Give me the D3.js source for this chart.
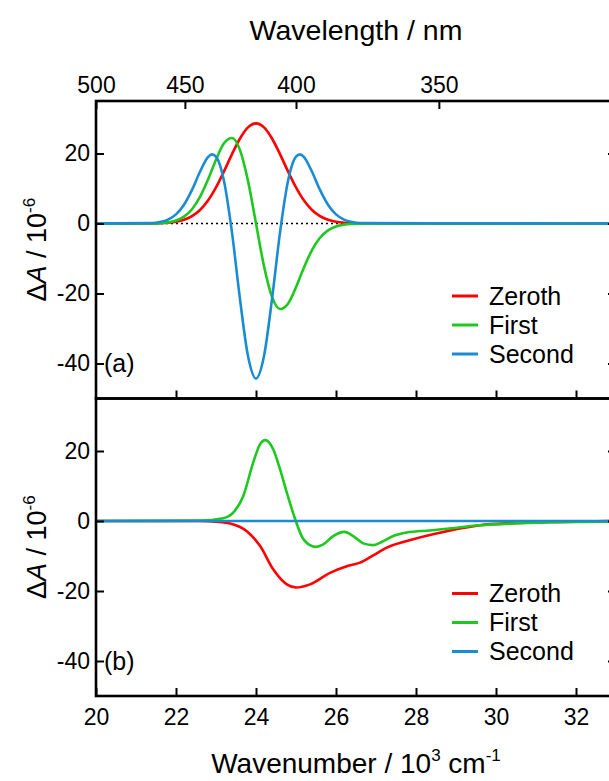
<!DOCTYPE html>
<html>
<head>
<meta charset="utf-8">
<script src="https://cdn.jsdelivr.net/npm/d3@7"></script>
<style>
  html, body { margin: 0; padding: 0; background: #fff; }
  svg { display: block; font-family: Arial, "Liberation Sans", sans-serif; }
</style>
</head>
<body>
<svg id="chart" width="609" height="781"></svg>
<script>
// wavenumber axis (10^3 cm^-1) and delta A (10^-6)
const wavenumberTicks = [20, 22, 24, 26, 28, 30, 32];
const wavelengthTicks = [500, 450, 400, 350];
const deltaTicks = [-40, -20, 0, 20];
const seriesNames = ["Zeroth", "First", "Second"];
const seriesColors = ["#ff0000", "#1ec81e", "#1a8cd2"];

// panel (a)
const topX = [20, 21.4, 21.6, 21.8, 22.0, 22.2, 22.4, 22.6, 22.8, 22.9, 23.0, 23.2, 23.4, 23.6, 23.8, 24.0,
              24.2, 24.4, 24.6, 24.8, 25.0, 25.1, 25.2, 25.4, 25.6, 25.8, 26.0, 26.2, 26.4, 26.6, 33];
const topZeroth = [0, 0.03, 0.08, 0.20, 0.48, 1.05, 2.10, 3.87, 6.58, 8.32, 10.31, 14.89, 19.81, 24.29, 27.46, 28.6,
                   27.46, 24.29, 19.81, 14.89, 10.31, 8.32, 6.58, 3.87, 2.10, 1.05, 0.48, 0.20, 0.08, 0.03, 0];
const topFirst = [0, 0.03, 0.11, 0.32, 0.83, 1.95, 4.08, 7.60, 12.54, 15.36, 18.19, 22.91, 24.43, 20.97, 12.18, 0,
                  -12.18, -20.97, -24.43, -22.91, -18.19, -15.36, -12.54, -7.60, -4.08, -1.95, -0.83, -0.32, -0.11, -0.03, 0];
const topSecond = [0, 0.14, 0.42, 1.11, 2.60, 5.35, 9.60, 14.77, 18.98, 19.76, 19.10, 12.13, -2.62, -21.62, -37.87, -44.3,
                   -37.87, -21.62, -2.62, 12.13, 19.10, 19.76, 18.98, 14.77, 9.60, 5.35, 2.60, 1.11, 0.42, 0.14, 0];

// panel (b)
const botZerothX = [20, 22.6, 23.0, 23.35, 23.77, 24.1, 24.43, 24.77, 25.0, 25.35, 25.85, 26.27, 26.6, 26.93,
                    27.27, 27.93, 28.77, 29.6, 30.43, 31.27, 32.52, 33];
const botZeroth = [0, 0, -0.2, -0.7, -2.9, -7.1, -13.8, -18.1, -19.0, -18.1, -14.8, -12.9, -11.9, -9.8,
                   -7.6, -5.2, -2.9, -1.2, -0.6, -0.3, -0.1, 0];
const botFirstX = [20, 22.6, 23.18, 23.43, 23.68, 23.93, 24.1, 24.23, 24.43, 24.6, 24.77, 24.98, 25.14, 25.35,
                   25.5, 25.68, 25.93, 26.21, 26.43, 26.68, 26.92, 27.14, 27.43, 27.77, 28.35, 28.77, 29.6,
                   30.43, 31.27, 32.52, 33];
const botFirst = [0, 0.1, 0.8, 2.4, 7.1, 16.7, 21.9, 23.1, 20.5, 14.8, 8.1, 0.5, -4.3, -6.9,
                  -7.4, -6.7, -4.3, -3.1, -4.3, -6.4, -6.9, -6.0, -4.3, -3.3, -2.7, -2.2, -1.2,
                  -0.7, -0.4, -0.2, -0.1];
const botSecondX = [20, 33];
const botSecond = [0, 0];

const svg = d3.select("#chart");
const font = "Arial, \"Liberation Sans\", sans-serif";

const x = d3.scaleLinear().domain([20, 33]).range([96, 616]);
const panels = [
    { top: 101, bottom: 398.5, label: "(a)", lines: [[topX, topZeroth], [topX, topFirst], [topX, topSecond]], dotted: true },
    { top: 398.5, bottom: 696, label: "(b)", lines: [[botZerothX, botZeroth], [botFirstX, botFirst], [botSecondX, botSecond]], dotted: false }
];

function styleAxis(g, size) {
    g.select(".domain").remove();
    g.selectAll(".tick line").attr("stroke", "#000").attr("stroke-width", 2);
    g.selectAll(".tick text").attr("fill", "#000").style("font-family", font).style("font-size", size + "px");
}

panels.forEach((p, pi) => {
    const y = d3.scaleLinear().domain([-50, 35]).range([p.bottom, p.top]);
    const g = svg.append("g");

    const clipId = "clip" + pi;
    svg.append("clipPath").attr("id", clipId).append("rect")
        .attr("x", x(20)).attr("y", p.top).attr("width", x(33) - x(20)).attr("height", p.bottom - p.top);

    const plot = g.append("g").attr("clip-path", `url(#${clipId})`);

    if (p.dotted) {
        plot.append("line")
            .attr("x1", x(20)).attr("x2", x(33))
            .attr("y1", y(0)).attr("y2", y(0))
            .attr("stroke", "#000").attr("stroke-width", 1.6)
            .attr("stroke-dasharray", "2,3");
    }

    const line = d3.line().curve(d3.curveMonotoneX);
    p.lines.forEach((s, i) => {
        const pts = s[0].map((v, k) => [x(v), y(s[1][k])]);
        plot.append("path")
            .attr("d", line(pts))
            .attr("fill", "none")
            .attr("stroke", seriesColors[i])
            .attr("stroke-width", 2.6)
            .attr("stroke-linejoin", "round");
    });

    // axes
    g.append("g").attr("transform", `translate(${x(20)},0)`)
        .call(d3.axisLeft(y).tickValues(deltaTicks).tickSize(-8).tickPadding(6).tickFormat(d => String(d)))
        .call(a => styleAxis(a, 23));
    g.append("g").attr("transform", `translate(${x(33)},0)`)
        .call(d3.axisRight(y).tickValues(deltaTicks).tickSize(-8).tickFormat(""))
        .call(a => styleAxis(a, 23));

    if (pi === 0) {
        g.append("g").attr("transform", `translate(0,${p.bottom})`)
            .call(d3.axisBottom(x).tickValues(wavenumberTicks.slice(1)).tickSize(-8).tickFormat(""))
            .call(a => styleAxis(a, 23));
        g.append("g").attr("transform", `translate(0,${p.top})`)
            .call(d3.axisTop(x)
                .tickValues(wavelengthTicks.map(l => 1e4 / l))
                .tickSize(-8).tickPadding(8)
                .tickFormat((d, i) => wavelengthTicks[i]))
            .call(a => styleAxis(a, 23));
    } else {
        g.append("g").attr("transform", `translate(0,${p.bottom})`)
            .call(d3.axisBottom(x).tickValues(wavenumberTicks).tickSize(-8).tickPadding(13).tickFormat(d => String(d)))
            .call(a => styleAxis(a, 23));
    }

    // frame
    g.append("rect")
        .attr("x", x(20)).attr("y", p.top)
        .attr("width", x(33) - x(20)).attr("height", p.bottom - p.top)
        .attr("fill", "none").attr("stroke", "#000").attr("stroke-width", 2.6);

    // y title
    const yt = g.append("text")
        .attr("transform", `translate(46,${(p.top + p.bottom) / 2}) rotate(-90)`)
        .attr("text-anchor", "middle")
        .style("font-family", font).style("font-size", "27px");
    yt.append("tspan").text("\u0394");
    yt.append("tspan").style("font-style", "italic").text("A");
    yt.append("tspan").text(" / 10");
    yt.append("tspan").attr("dy", -11).style("font-size", "17px").text("-6");

    // panel label
    g.append("text").attr("x", 104).attr("y", p.top + 271)
        .style("font-family", font).style("font-size", "25px").text(p.label);

    // legend
    const leg = g.append("g").attr("transform", `translate(452,${p.top + 195})`);
    seriesNames.forEach((n, i) => {
        leg.append("line").attr("x1", 0).attr("x2", 26).attr("y1", i * 29).attr("y2", i * 29)
            .attr("stroke", seriesColors[i]).attr("stroke-width", 3);
        leg.append("text").attr("x", 37).attr("y", i * 29).attr("dy", "0.35em")
            .style("font-family", font).style("font-size", "25px").text(n);
    });
});

// top title
svg.append("text").attr("x", 356).attr("y", 40).attr("text-anchor", "middle")
    .style("font-family", font).style("font-size", "28.5px").text("Wavelength / nm");

// bottom title
const bt = svg.append("text").attr("x", 356).attr("y", 773).attr("text-anchor", "middle")
    .style("font-family", font).style("font-size", "28px");
bt.append("tspan").text("Wavenumber / 10");
bt.append("tspan").attr("dy", -12).style("font-size", "17px").text("3");
bt.append("tspan").attr("dy", 12).text(" cm");
bt.append("tspan").attr("dy", -12).style("font-size", "17px").text("-1");
</script>
</body>
</html>
